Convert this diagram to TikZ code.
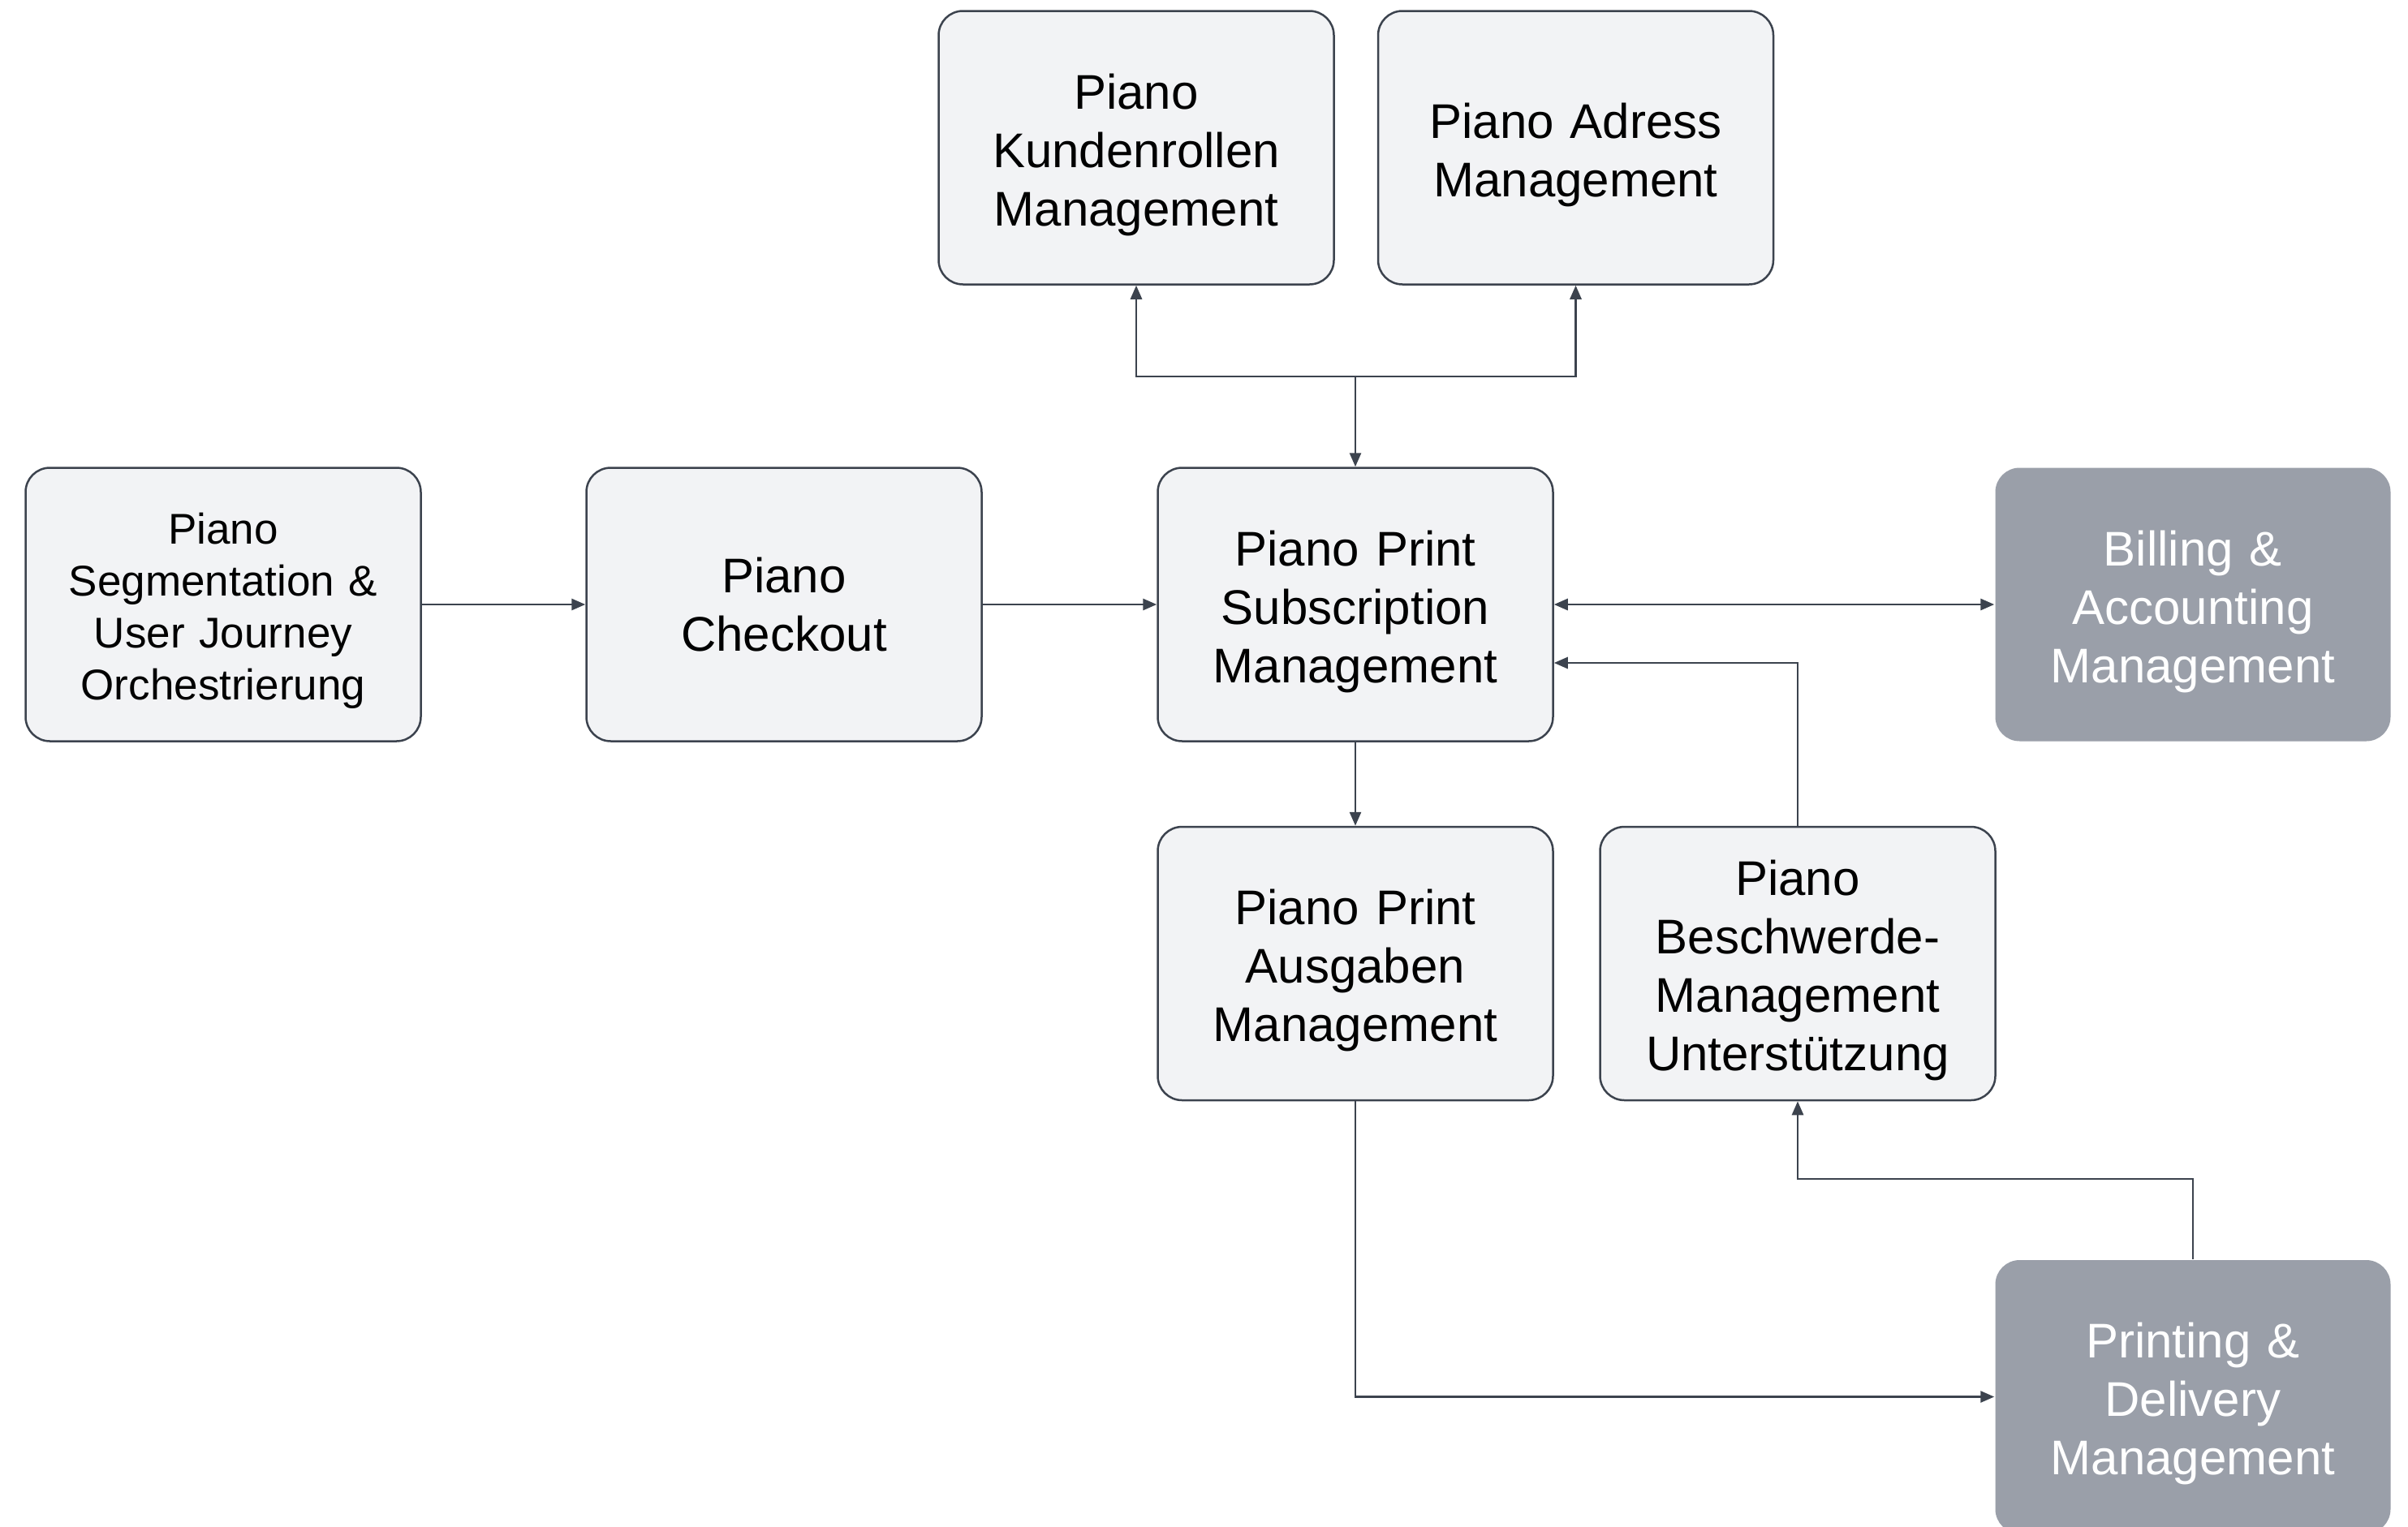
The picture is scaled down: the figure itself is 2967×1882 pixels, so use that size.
\documentclass[tikz,border=0pt]{standalone}
\usepackage{fontspec}
\setmainfont{Liberation Sans}
\usetikzlibrary{arrows.meta}
\definecolor{boxfill}{HTML}{F2F3F5}
\definecolor{boxline}{HTML}{3C434E}
\definecolor{darkfill}{HTML}{9A9FA9}
\definecolor{conncol}{HTML}{3C434E}
\begin{document}
\begin{tikzpicture}[x=1pt,y=-1pt,
  basebox/.style={draw=boxline, line width=2.5pt, fill=boxfill, rounded corners=30pt,
    minimum width=487pt, minimum height=337pt, inner sep=0pt, align=center,
    text width=470pt, font=\fontsize{60}{72}\selectfont},
  lightbox/.style={basebox, execute at begin node={\rule{0pt}{1.02em}}},
  smalltext/.style={font=\fontsize{53}{64}\selectfont},
  darkbox/.style={lightbox, draw=none, fill=darkfill, text=white},
  conn/.style={draw=conncol, line width=2.7pt},
  tip/.style={-{Triangle[length=17pt,width=14pt]}},
  bitip/.style={{Triangle[length=17pt,width=14pt]}-{Triangle[length=17pt,width=14pt]}},
]
\path[fill=white] (0,0) rectangle (2967,1882);
\clip (0,0) rectangle (2967,1882);

\node[lightbox] (kr) at (1400,182) {Piano\\Kundenrollen\\Management};
\node[lightbox] (ad) at (1941.5,182) {Piano Adress\\Management};
\node[lightbox,smalltext] (seg) at (275,745) {Piano\\Segmentation \&\\User Journey\\Orchestrierung};
\node[basebox] (chk) at (966,745) {Piano\\Checkout};
\node[lightbox] (sub) at (1670,745) {Piano Print\\Subscription\\Management};
\node[darkbox] (bill) at (2702,745) {Billing \&\\Accounting\\Management};
\node[lightbox] (aus) at (1670,1187.5) {Piano Print\\Ausgaben\\Management};
\node[lightbox] (besch) at (2215,1187.5) {Piano\\Beschwerde-\\Management\\Unterstützung};
\node[darkbox] (print) at (2702,1721.5) {Printing \&\\Delivery\\Management};

\coordinate (jtop) at (0,464);
\coordinate (jbesch) at (0,817);
\coordinate (jprint) at (0,1453);

\draw[conn,bitip] (sub.north) -- (sub.north |- jtop) -| (kr.south);
\draw[conn,tip] (sub.north |- jtop) -| (ad.south);
\draw[conn,tip] (seg.east) -- (chk.west);
\draw[conn,tip] (chk.east) -- (sub.west);
\draw[conn,bitip] (sub.east) -- (bill.west);
\draw[conn,tip] (besch.north) |- (sub.east |- jbesch);
\draw[conn,tip] (sub.south) -- (aus.north);
\draw[conn,tip] (aus.south) |- (print.west);
\draw[conn,tip] (print.north) -- (print.north |- jprint) -| (besch.south);
\end{tikzpicture}
\end{document}
